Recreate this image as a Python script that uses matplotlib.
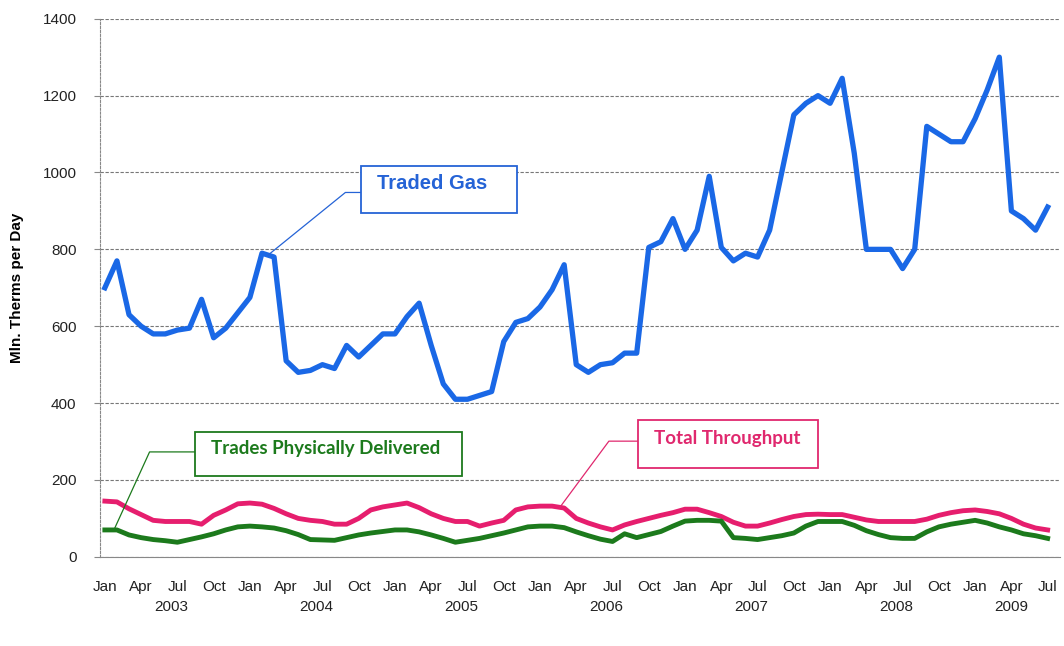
import matplotlib
matplotlib.use("Agg")
import matplotlib.pyplot as plt
from matplotlib.patches import Rectangle
import matplotlib.transforms as mtransforms

plt.rcParams["font.family"] = ["Liberation Sans", "DejaVu Sans"]

# monthly data, Jan 2003 - Jul 2009 (mln therms per day)
traded_gas = [
    700, 770, 630, 600, 580, 580, 590, 595, 670, 570, 595, 635,      # 2003
    675, 790, 780, 510, 480, 485, 500, 490, 550, 520, 550, 580,      # 2004
    580, 625, 660, 550, 450, 410, 410, 420, 430, 560, 610, 620,      # 2005
    650, 695, 760, 500, 480, 500, 505, 530, 530, 805, 820, 880,      # 2006
    800, 850, 990, 805, 770, 790, 780, 850, 1000, 1150, 1180, 1200,  # 2007
    1180, 1245, 1050, 800, 800, 800, 750, 800, 1120, 1100, 1080, 1080,  # 2008
    1140, 1215, 1300, 900, 880, 850, 910,                            # 2009
]
total_throughput = [
    145, 143, 125, 110, 95, 92, 92, 92, 85, 108, 122, 138,
    140, 137, 126, 112, 100, 95, 92, 85, 85, 100, 122, 130,
    135, 140, 128, 112, 100, 92, 92, 80, 88, 95, 122, 130,
    132, 132, 127, 100, 88, 78, 70, 83, 92, 100, 108, 115,
    124, 124, 115, 105, 90, 80, 80, 88, 97, 105, 110, 111,
    110, 110, 103, 96, 92, 92, 92, 92, 98, 108, 115, 120,
    122, 118, 112, 100, 85, 75, 70,
]
physically_delivered = [
    70, 70, 57, 50, 45, 42, 38, 45, 52, 60, 70, 78,
    80, 78, 75, 68, 58, 45, 44, 43, 50, 57, 62, 66,
    70, 70, 65, 57, 48, 38, 43, 48, 55, 62, 70, 78,
    80, 80, 76, 65, 55, 46, 40, 60, 50, 58, 66, 80,
    93, 95, 95, 93, 50, 48, 45, 50, 55, 62, 80, 92,
    92, 92, 82, 68, 58, 50, 48, 48, 65, 78, 85, 90,
    95, 88, 78, 70, 60, 55, 48,
]
month_names = ["Jan", "Apr", "Jul", "Oct"]
years = ["2003", "2004", "2005", "2006", "2007", "2008", "2009"]

months = list(range(len(traded_gas)))

blue = "#1a68e6"
pink = "#e61e6e"
green = "#1c7a1c"

fig = plt.figure(figsize=(10.64, 6.46), dpi=100)
ax = fig.add_axes([0.094, 0.138, 0.902, 0.833])

ax.plot(months, traded_gas, color=blue, lw=3.8)
ax.plot(months, total_throughput, color=pink, lw=3.5)
ax.plot(months, physically_delivered, color=green, lw=3.5)

ax.set_xlim(-0.4, 79)
ax.set_ylim(0, 1400)
ax.set_yticks(range(0, 1401, 200))
ax.grid(axis="y", color="#777777", linestyle=(0, (3, 1.5)), linewidth=0.8)
ax.set_axisbelow(True)

for s in ["top", "right"]:
    ax.spines[s].set_visible(False)
ax.spines["left"].set_color("#888888")
ax.spines["left"].set_linestyle((0, (2, 1.5)))
ax.spines["bottom"].set_color("#888888")

tick_pos = months[::3]
ax.set_xticks(tick_pos)
ax.set_xticklabels([month_names[i % 4] for i in range(len(tick_pos))])
ax.tick_params(axis="x", length=0, pad=17, labelsize=11, labelcolor="#222222")
ax.tick_params(axis="y", length=4, color="#888888", pad=13, labelsize=11, labelcolor="#222222")

# year labels under the month labels
trans = mtransforms.blended_transform_factory(ax.transData, ax.transAxes)
year_pos = [5.5, 17.5, 29.5, 41.5, 53.5, 65.5, 75]
for xp, yr in zip(year_pos, years):
    ax.text(xp, -0.093, yr, transform=trans, ha="center", va="center",
            fontsize=11, color="#222222")

ax.set_ylabel("Mln. Therms per Day", fontsize=11, fontweight="bold", labelpad=13)

# callout boxes
def callout(x0, x1, y0, y1, elbow, point, label, color, family, size):
    ax.add_patch(Rectangle((x0, y0), x1 - x0, y1 - y0, fill=True, facecolor="white",
                           edgecolor=color, lw=1.3, zorder=5))
    ax.plot([point[0], elbow[0], x0], [point[1], elbow[1], elbow[1]],
            color=color, lw=0.9, zorder=4)
    ax.text(x0 + 1.35, y1 - (y1 - y0) * 0.38, label, color=color, fontsize=size,
            fontweight="bold", ha="left", va="center", family=family, zorder=6)

callout(21.2, 34.1, 894, 1018, (19.9, 948), (13.5, (traded_gas[13] + traded_gas[14]) / 2),
        "Traded Gas", "#2563d6", ["Liberation Sans", "DejaVu Sans"], 14.5)
callout(7.45, 29.55, 210, 325, (3.7, 273), (0.75, physically_delivered[0]),
        "Trades Physically Delivered", "#1c7a1c", ["Lato", "DejaVu Sans"], 13.5)
callout(44.1, 59.0, 231, 356, (41.7, 301), (37.6, total_throughput[37] - 5),
        "Total Throughput", "#e0286e", ["Lato", "DejaVu Sans"], 13.5)

fig.savefig("out.png", dpi=100)
